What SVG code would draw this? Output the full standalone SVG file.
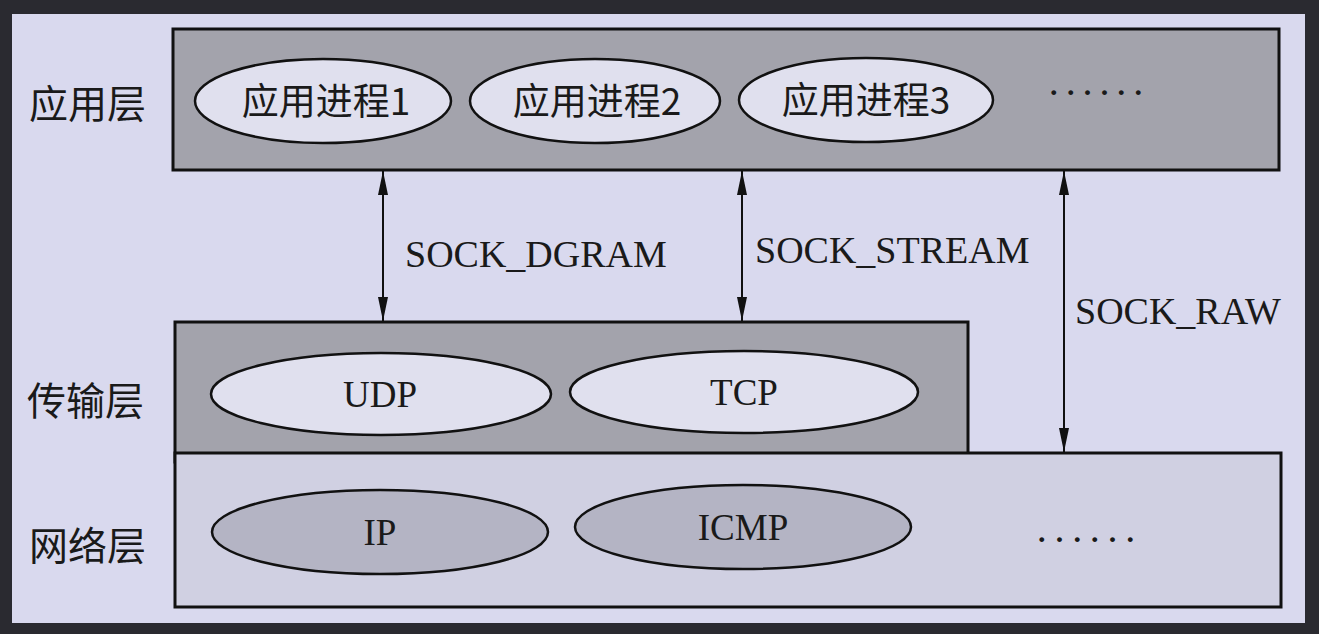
<svg xmlns="http://www.w3.org/2000/svg" width="1319" height="634" viewBox="0 0 1319 634">
<defs>
<style>
.frame{fill:#d9d9ee}
.layer-dark{fill:#a3a3ac;stroke:#111;stroke-width:3}
.layer-light{fill:#d0d0e2;stroke:#111;stroke-width:3}
.ell-light{fill:#e0e0ee;stroke:#111;stroke-width:2.5}
.ell-dark{fill:#b4b4c4;stroke:#111;stroke-width:2.5}
.cjk{font-family:"Noto Sans CJK SC","Liberation Serif",serif;fill:#1a1a1a}
.lat{font-family:"Liberation Serif","Noto Sans CJK SC",serif;fill:#1a1a1a}
.dots{font-family:"Liberation Serif",serif;fill:#1a1a1a;font-weight:bold}
.conn{stroke:#111;stroke-width:2;fill:none}
</style>
<marker id="ah2" viewBox="0 0 24 12" refX="24" refY="6" markerWidth="24" markerHeight="12" markerUnits="userSpaceOnUse" orient="auto-start-reverse">
<path d="M0,1 L24,6 L0,11 Z" fill="#111"/>
</marker>
</defs>
<rect x="0" y="0" width="1319" height="634" fill="#2a2a30"/>
<rect class="frame" x="12" y="14" width="1293" height="609"/>

<g id="app-layer">
<rect class="layer-dark" x="173" y="29" width="1106" height="141"/>
<text class="cjk" x="29" y="118" font-size="39">应用层</text>
</g>
<g id="app1">
<ellipse class="ell-light" cx="323" cy="101" rx="128" ry="42"/>
<text class="cjk" x="326" y="115" font-size="37" text-anchor="middle">应用进程1</text>
</g>
<g id="app2">
<ellipse class="ell-light" cx="595" cy="101" rx="125" ry="42"/>
<text class="cjk" x="597" y="115" font-size="37" text-anchor="middle">应用进程2</text>
</g>
<g id="app3">
<ellipse class="ell-light" cx="866" cy="100" rx="127" ry="42"/>
<text class="cjk" x="866" y="114" font-size="37" text-anchor="middle">应用进程3</text>
</g>
<g id="app-more">
<text class="dots" x="1050" y="95" font-size="30" textLength="92" lengthAdjust="spacing">......</text>
</g>

<g id="transport-layer">
<rect class="layer-dark" x="175" y="322" width="793" height="140"/>
<text class="cjk" x="27" y="415" font-size="39">传输层</text>
</g>
<g id="udp">
<ellipse class="ell-light" cx="381" cy="394" rx="170" ry="41"/>
<text class="lat" x="380" y="407" font-size="37" text-anchor="middle">UDP</text>
</g>
<g id="tcp">
<ellipse class="ell-light" cx="744" cy="392" rx="174" ry="41"/>
<text class="lat" x="744" y="405" font-size="37" text-anchor="middle">TCP</text>
</g>

<g id="network-layer">
<rect class="layer-light" x="175" y="453" width="1106" height="154"/>
<text class="cjk" x="29" y="560" font-size="39">网络层</text>
</g>
<g id="ip">
<ellipse class="ell-dark" cx="380" cy="532" rx="168" ry="42"/>
<text class="lat" x="380" y="545" font-size="37" text-anchor="middle">IP</text>
</g>
<g id="icmp">
<ellipse class="ell-dark" cx="743" cy="527" rx="168" ry="42"/>
<text class="lat" x="743" y="540" font-size="37" text-anchor="middle">ICMP</text>
</g>
<g id="net-more">
<text class="dots" x="1038" y="542" font-size="30" textLength="96" lengthAdjust="spacing">......</text>
</g>

<g id="connectors">
<line class="conn" x1="383" y1="171" x2="383" y2="321" marker-start="url(#ah2)" marker-end="url(#ah2)"/>
<text class="lat" x="405" y="267" font-size="38">SOCK_DGRAM</text>
<line class="conn" x1="742" y1="171" x2="742" y2="321" marker-start="url(#ah2)" marker-end="url(#ah2)"/>
<text class="lat" x="755" y="263" font-size="38">SOCK_STREAM</text>
<line class="conn" x1="1064" y1="171" x2="1064" y2="452" marker-start="url(#ah2)" marker-end="url(#ah2)"/>
<text class="lat" x="1075" y="324" font-size="38">SOCK_RAW</text>
</g>
</svg>
